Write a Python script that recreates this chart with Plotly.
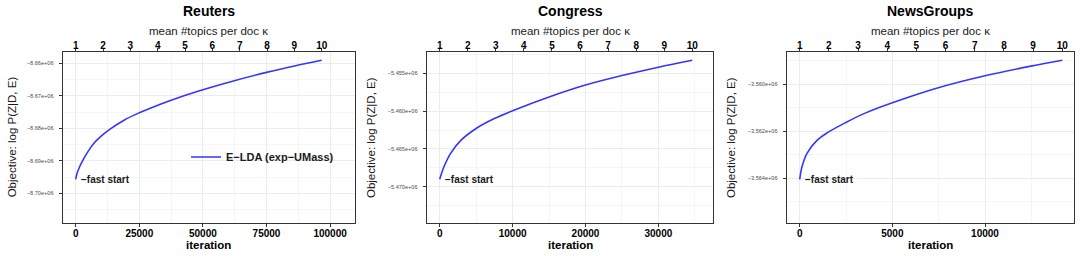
import plotly.graph_objects as go

# ---------------- data ----------------
panel_titles = ["Reuters", "Congress", "NewsGroups"]

reuters_iter = [0, 500, 1500, 3000, 5000, 7000, 10000, 13500, 19000, 25000, 33000,
                42000, 50000, 62000, 75000, 86000, 96700]
reuters_obj = [-8695690, -8693900, -8691900, -8689570, -8686950, -8684750, -8682400,
               -8680250, -8677500, -8675230, -8672650, -8670110, -8668120, -8665420,
               -8662800, -8660830, -8659080]

congress_iter = [0, 250, 600, 1500, 2900, 5000, 7500, 10000, 15000, 20000, 25000, 30000, 34650]
congress_obj = [-5469020, -5468250, -5467330, -5465600, -5463870, -5462300, -5460990,
                -5459950, -5458130, -5456550, -5455300, -5454190, -5453280]

news_iter = [0, 124, 394, 934, 1500, 2460, 3500, 5000, 7430, 10000, 12470, 14170]
news_obj = [-3564060, -3563520, -3562950, -3562400, -3562070, -3561650, -3561250,
            -3560800, -3560170, -3559650, -3559240, -3558990]

reuters_xticks = [0, 25000, 50000, 75000, 100000]
congress_xticks = [0, 10000, 20000, 30000]
news_xticks = [0, 5000, 10000]

reuters_yticks = [-8.70e6, -8.69e6, -8.68e6, -8.67e6, -8.66e6]
reuters_ylabels = ["\u22128.70e+06", "\u22128.69e+06", "\u22128.68e+06", "\u22128.67e+06", "\u22128.66e+06"]
congress_yticks = [-5.470e6, -5.465e6, -5.460e6, -5.455e6]
congress_ylabels = ["\u22125.470e+06", "\u22125.465e+06", "\u22125.460e+06", "\u22125.455e+06"]
news_yticks = [-3.564e6, -3.562e6, -3.560e6]
news_ylabels = ["\u22123.564e+06", "\u22123.562e+06", "\u22123.560e+06"]

kappa_ticks = [1, 2, 3, 4, 5, 6, 7, 8, 9, 10]

series_name = "E\u2212LDA (exp\u2212UMass)"
start_label = "\u2212fast start"
x_title = "iteration"
y_title = "Objective: log P(Z|D, E)"
top_title = "mean #topics per doc \u03ba"

# ---------------- layout / styling ----------------
W, H = 1080, 256
FONT = "Liberation Sans, Arial, Helvetica, sans-serif"
LINE = "#3535ff"
GRID = "#EBEBEB"
BORDER = "#333333"

panels = [
    dict(it=reuters_iter, obj=reuters_obj, xt=reuters_xticks, yt=reuters_yticks, yl=reuters_ylabels,
         px=(62.7, 355.0), xr=(-5110, 109790), yr=(-8709046, -8656523),
         xminor=12500, yminor=5000, ytitle_x=12),
    dict(it=congress_iter, obj=congress_obj, xt=congress_xticks, yt=congress_yticks, yl=congress_ylabels,
         px=(426.7, 713.3), xr=(-1783, 37531), yr=(-5474762, -5452183),
         xminor=5000, yminor=2500, ytitle_x=371.7),
    dict(it=news_iter, obj=news_obj, xt=news_xticks, yt=news_yticks, yl=news_ylabels,
         px=(786.7, 1074.0), xr=(-702, 14803), yr=(-3565902, -3558638),
         xminor=2500, yminor=1000, ytitle_x=731.7),
]
top_px, bot_px = 52.0, 222.7
ydom = [1 - bot_px / H, 1 - top_px / H]

fig = go.Figure()
annotations = []
layout = {}

for i, p in enumerate(panels):
    n = i + 1
    xa = "x" if n == 1 else f"x{n}"
    ya = "y" if n == 1 else f"y{n}"
    xtop = f"x{n + 3}"
    xdom = [p["px"][0] / W, p["px"][1] / W]

    fig.add_trace(go.Scatter(
        x=p["it"], y=p["obj"], mode="lines", name=series_name,
        line=dict(color=LINE, width=1.6, shape="spline", smoothing=1.0),
        xaxis=xa, yaxis=ya, showlegend=(n == 1), hoverinfo="skip"))

    end_it = p["it"][-1]
    k_range = [1 + 9 * p["xr"][0] / end_it, 1 + 9 * p["xr"][1] / end_it]

    layout[f"xaxis{'' if n == 1 else n}"] = dict(
        domain=xdom, range=list(p["xr"]), anchor=ya,
        tickmode="array", tickvals=p["xt"], ticktext=[str(v) for v in p["xt"]],
        tickfont=dict(family=FONT, size=10, color="#000000", weight="bold"),
        ticks="outside", ticklen=3, tickcolor=BORDER, tickwidth=1,
        ticklabelstandoff=-2,
        showline=True, linecolor=BORDER, linewidth=1, mirror=True,
        showgrid=True, gridcolor=GRID, gridwidth=1, zeroline=False,
        minor=dict(tickmode="linear", tick0=0, dtick=p["xminor"], showgrid=True,
                   gridcolor=GRID, gridwidth=0.5, ticks=""),
    )
    layout[f"yaxis{'' if n == 1 else n}"] = dict(
        domain=ydom, range=list(p["yr"]), anchor=xa,
        tickmode="array", tickvals=p["yt"], ticktext=p["yl"],
        tickfont=dict(family=FONT, size=5.6, color="#4D4D4D"),
        ticks="outside", ticklen=3, tickcolor=BORDER, tickwidth=1,
        ticklabelstandoff=4,
        showline=True, linecolor=BORDER, linewidth=1, mirror=True,
        showgrid=True, gridcolor=GRID, gridwidth=1, zeroline=False,
        minor=dict(tickmode="linear", tick0=p["yt"][0], dtick=p["yminor"], showgrid=True,
                   gridcolor=GRID, gridwidth=0.5, ticks=""),
    )
    layout[f"xaxis{n + 3}"] = dict(
        domain=xdom, range=k_range, overlaying=xa, side="top", anchor=ya,
        tickmode="array", tickvals=kappa_ticks, ticktext=[str(k) for k in kappa_ticks],
        tickfont=dict(family=FONT, size=10, color="#000000", weight="bold"),
        ticks="outside", ticklen=3, tickcolor=BORDER, tickwidth=1,
        ticklabelstandoff=-5,
        showline=False, showgrid=False, zeroline=False,
    )
    fig.add_trace(go.Scatter(x=[k_range[0]], y=[p["yr"][0]], mode="markers",
                             marker=dict(opacity=0), xaxis=xtop, yaxis=ya,
                             showlegend=False, hoverinfo="skip"))

    cx = (xdom[0] + xdom[1]) / 2
    annotations += [
        dict(text=panel_titles[i], x=cx, y=1 - 10.7 / H, xref="paper", yref="paper",
             xanchor="center", yanchor="middle", showarrow=False,
             font=dict(family=FONT, size=14, color="#000000", weight="bold")),
        dict(text=top_title, x=cx, y=1 - 31 / H, xref="paper", yref="paper",
             xanchor="center", yanchor="middle", showarrow=False,
             font=dict(family=FONT, size=11.5, color="#1a1a1a")),
        dict(text=x_title, x=cx, y=1 - 244.7 / H, xref="paper", yref="paper",
             xanchor="center", yanchor="middle", showarrow=False,
             font=dict(family=FONT, size=11.5, color="#000000", weight="bold")),
        dict(text=y_title, x=p["ytitle_x"] / W, y=(ydom[0] + ydom[1]) / 2, xref="paper", yref="paper",
             xanchor="center", yanchor="middle", showarrow=False, textangle=-90,
             font=dict(family=FONT, size=11.5, color="#1a1a1a")),
        dict(text=start_label, x=p["it"][0], y=p["obj"][0], xref=xa, yref=ya,
             xanchor="left", yanchor="middle", xshift=3, showarrow=False,
             font=dict(family=FONT, size=10, color="#1a1a1a", weight="bold")),
    ]

fig.update_layout(
    width=W, height=H, autosize=False,
    margin=dict(l=0, r=0, t=0, b=0),
    paper_bgcolor="white", plot_bgcolor="white",
    annotations=annotations,
    legend=dict(x=186 / W, y=1 - 157 / H, xanchor="left", yanchor="middle",
                bgcolor="rgba(255,255,255,0)", borderwidth=0,
                font=dict(family=FONT, size=11, color="#1a1a1a", weight="bold"),
                itemwidth=30),
    **layout,
)

fig.write_html("out.html",
               config={"displayModeBar": False, "staticPlot": True},
               post_script="document.body.style.margin='0px';document.body.style.overflow='hidden';")
